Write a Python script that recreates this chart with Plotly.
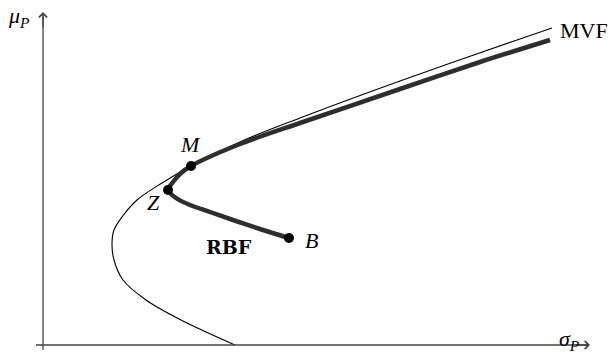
import plotly.graph_objects as go

# coordinates in (sigma_P, mu_P), origin at axes crossing
mvf_sigma = [192, 138, 103, 80, 71, 69, 71, 79, 94, 119, 148, 199, 257, 357, 474, 509]
mvf_mu = [0, 25, 45, 65, 85, 101, 115, 128, 145, 162, 179, 204, 227, 264, 305, 317]

rbf_sigma = [246, 217, 190, 167, 147, 133, 125, 130, 138, 148, 197, 257, 357, 437, 507]
rbf_mu = [107, 116, 125, 133, 140, 147, 155, 163, 172, 179, 201, 222, 256, 283, 305]

pt_names = ["B", "Z", "M"]
pt_sigma = [246, 125, 148]
pt_mu = [107, 155, 179]

FONT = "Liberation Serif"
W, H = 612, 356

fig = go.Figure()
fig.add_trace(go.Scatter(x=mvf_sigma, y=mvf_mu, mode="lines",
                         line=dict(color="black", width=1.1, shape="spline", smoothing=1.0)))
fig.add_trace(go.Scatter(x=rbf_sigma, y=rbf_mu, mode="lines",
                         line=dict(color="#2e2e2e", width=4.5, shape="spline", smoothing=0.8)))
fig.add_trace(go.Scatter(x=pt_sigma, y=pt_mu, mode="markers",
                         marker=dict(color="black", size=10)))

# axes lines with arrows
ax_col = "#444"
fig.add_shape(type="line", x0=-7, y0=0, x1=545, y1=0, line=dict(color=ax_col, width=1.3))
fig.add_shape(type="line", x0=0, y0=-5, x1=0, y1=330, line=dict(color=ax_col, width=1.3))
fig.add_annotation(x=547, y=0, ax=530, ay=0, axref="x", ayref="y", showarrow=True,
                   arrowhead=4, arrowsize=1.2, arrowwidth=1.3, arrowcolor=ax_col, text="")
fig.add_annotation(x=0, y=333, ax=0, ay=316, axref="x", ayref="y", showarrow=True,
                   arrowhead=4, arrowsize=1.2, arrowwidth=1.3, arrowcolor=ax_col, text="")

txt = dict(family=FONT, size=22, color="black")
fig.add_annotation(x=-37, y=328, text="<i>μ</i><sub><i>P</i></sub>", showarrow=False,
                   font=txt, xanchor="left", yanchor="middle")
fig.add_annotation(x=514, y=-11, text="<i>σ</i><sub><i>P</i></sub>", showarrow=False, font=txt,
                   xanchor="left", yanchor="bottom")
fig.add_annotation(x=515, y=315, text="MVF", showarrow=False, font=txt,
                   xanchor="left", yanchor="middle")
fig.add_annotation(x=147, y=201, text="<i>M</i>", showarrow=False, font=txt)
fig.add_annotation(x=110, y=143, text="<i>Z</i>", showarrow=False, font=txt)
fig.add_annotation(x=268, y=105, text="<i>B</i>", showarrow=False, font=txt)
fig.add_annotation(x=186, y=98, text="<b>RBF</b>", showarrow=False,
                   font=dict(family="DejaVu Serif", size=19, color="black"))

# one data unit is one pixel, origin at (43, 345) from the top-left corner
fig.update_xaxes(range=[-43, -43 + W], visible=False)
fig.update_yaxes(range=[345 - H, 345], visible=False)
fig.update_layout(width=W, height=H, margin=dict(l=0, r=0, t=0, b=0),
                  plot_bgcolor="white", paper_bgcolor="white", showlegend=False)
fig.write_html("out.html", config={"displayModeBar": False},
               post_script="document.body.style.margin='0';document.body.style.overflow='hidden';")
